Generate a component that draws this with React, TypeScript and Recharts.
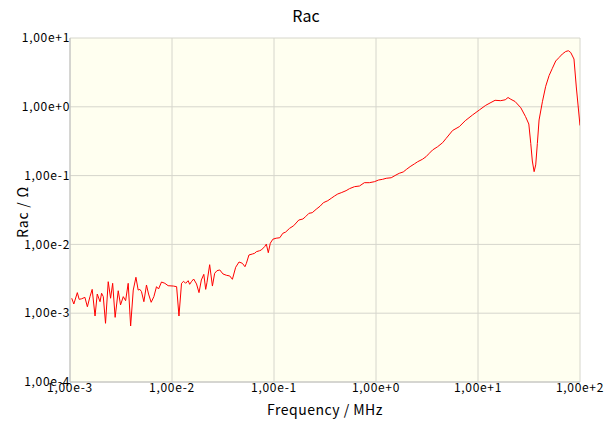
import { CartesianGrid, Line, LineChart, XAxis, YAxis } from "recharts";

// frequency (MHz)
const freqMHz = [
  1.04e-3, 1.09e-3, 1.18e-3, 1.23e-3, 1.3e-3, 1.4e-3, 1.48e-3, 1.57e-3, 1.65e-3, 1.76e-3,
  1.85e-3, 1.97e-3, 2.04e-3, 2.12e-3, 2.23e-3, 2.37e-3, 2.5e-3, 2.62e-3, 2.77e-3, 2.97e-3,
  3.13e-3, 3.33e-3, 3.51e-3, 3.72e-3, 3.93e-3, 4.17e-3, 4.43e-3, 4.66e-3, 4.84e-3, 5.02e-3,
  5.3e-3, 5.62e-3, 5.89e-3, 6.25e-3, 6.64e-3, 7.05e-3, 7.38e-3, 7.89e-3, 8.51e-3, 9.16e-3,
  1.03e-2, 1.11e-2, 1.17e-2, 1.24e-2, 1.3e-2, 1.36e-2, 1.44e-2, 1.49e-2, 1.55e-2, 1.63e-2,
  1.74e-2, 1.84e-2, 1.94e-2, 2.05e-2, 2.14e-2, 2.2e-2, 2.34e-2, 2.49e-2, 2.62e-2, 2.76e-2,
  2.94e-2, 3.16e-2, 3.41e-2, 3.68e-2, 3.91e-2, 4.21e-2, 4.54e-2, 4.9e-2, 5.19e-2, 5.36e-2,
  5.68e-2, 6.14e-2, 6.46e-2, 6.71e-2, 7.23e-2, 7.52e-2, 8.09e-2, 8.41e-2, 8.79e-2, 9.2e-2,
  9.75e-2, 0.105, 0.114, 0.122, 0.13, 0.142, 0.156, 0.175, 0.192, 0.204,
  0.22, 0.237, 0.259, 0.284, 0.305, 0.337, 0.364, 0.392, 0.422, 0.456,
  0.509, 0.55, 0.615, 0.689, 0.769, 0.861, 0.964, 1.06, 1.16, 1.26,
  1.41, 1.57, 1.69, 1.85, 2.0, 2.16, 2.38, 2.56, 2.86, 3.09,
  3.33, 3.59, 4.02, 4.5, 4.85, 5.64, 6.55, 7.5, 8.83, 10.3,
  11.9, 13.4, 14.7, 16.7, 18.5, 19.7, 21.0, 23.1, 26.3, 29.2,
  31.5, 32.9, 34.1, 35.5, 36.8, 38.2, 39.7, 42.8, 46.1, 49.8,
  53.6, 57.8, 62.4, 67.1, 72.4, 76.9, 81.1, 87.3, 92.0, 100,
];

// Rac (Ω)
const racOhm = [
  1.65e-3, 1.36e-3, 1.99e-3, 1.59e-3, 1.62e-3, 1.7e-3, 1.24e-3, 1.74e-3, 2.22e-3, 9.1e-4,
  1.9e-3, 1.47e-3, 1.95e-3, 1.74e-3, 7.13e-4, 2.87e-3, 1.65e-3, 2.72e-3, 8.7e-4, 2.12e-3,
  1.32e-3, 1.74e-3, 1.52e-3, 2.72e-3, 6.52e-4, 2.17e-3, 3.33e-3, 2.17e-3, 2.22e-3, 2.06e-3,
  1.47e-3, 2.57e-3, 1.9e-3, 1.44e-3, 1.74e-3, 2.43e-3, 2.25e-3, 2.84e-3, 2.72e-3, 2.51e-3,
  2.48e-3, 2.43e-3, 9.1e-4, 2.72e-3, 2.91e-3, 2.72e-3, 2.97e-3, 2.63e-3, 2.87e-3, 3.14e-3,
  2.66e-3, 1.99e-3, 3.04e-3, 3.67e-3, 2.22e-3, 2.77e-3, 5.07e-3, 2.48e-3, 3.8e-3, 4.15e-3,
  4.25e-3, 3.72e-3, 3.56e-3, 3.48e-3, 3.11e-3, 4.65e-3, 5.55e-3, 5.31e-3, 4.74e-3, 5.31e-3,
  7.02e-3, 7.25e-3, 7.43e-3, 7.83e-3, 8.1e-3, 8.3e-3, 9.27e-3, 1.01e-2, 7.57e-3, 1.04e-2,
  1.19e-2, 1.23e-2, 1.25e-2, 1.45e-2, 1.51e-2, 1.71e-2, 1.87e-2, 2.26e-2, 2.34e-2, 2.53e-2,
  2.83e-2, 2.89e-2, 3.24e-2, 3.61e-2, 4.04e-2, 4.32e-2, 4.68e-2, 5.05e-2, 5.41e-2, 5.64e-2,
  6.04e-2, 6.46e-2, 6.9e-2, 7.06e-2, 7.89e-2, 7.89e-2, 8.15e-2, 8.63e-2, 8.83e-2, 9.14e-2,
  9.31e-2, 0.102, 0.108, 0.113, 0.124, 0.135, 0.148, 0.159, 0.173, 0.188,
  0.211, 0.236, 0.263, 0.301, 0.345, 0.453, 0.514, 0.628, 0.76, 0.898,
  1.05, 1.155, 1.243, 1.227, 1.265, 1.365, 1.285, 1.194, 0.967, 0.723,
  0.562, 0.294, 0.163, 0.114, 0.143, 0.294, 0.643, 1.186, 1.986, 2.85,
  3.63, 4.63, 5.21, 5.85, 6.36, 6.53, 6.15, 4.95, 1.94, 0.535,
];

const xTicks = [1e-3, 1e-2, 1e-1, 1e0, 1e1, 1e2];
const yTicks = [1e-4, 1e-3, 1e-2, 1e-1, 1e0, 1e1];

const FONT = '"Noto Sans CJK JP", sans-serif';
const GRID = "#d6d6cc";

const fmtExp = (v: number) => {
  const e = Math.round(Math.log10(v));
  return `1,00e${e >= 0 ? "+" : "-"}${Math.abs(e)}`;
};

const tickStyle = { fill: "#000", fontSize: 12, fontFamily: FONT, letterSpacing: 0.7 };

export default function App() {
  const data = freqMHz.map((f, i) => ({ f, rac: racOhm[i] }));
  return (
    <div style={{ position: "absolute", left: 0, top: 0, width: 612, height: 421, background: "#fff", fontFamily: FONT }}>
      <div style={{ position: "absolute", left: 0, width: 612, top: 3, textAlign: "center", fontSize: 16, color: "#000" }}>
        Rac
      </div>
      <LineChart width={612} height={421} data={data} margin={{ top: 38, right: 32, left: 0, bottom: 0 }}>
        <CartesianGrid fill="#fffff0" stroke={GRID} />
        <XAxis
          dataKey="f"
          type="number"
          scale="log"
          domain={[1e-3, 1e2]}
          ticks={xTicks}
          allowDataOverflow
          tickFormatter={fmtExp}
          tickLine={false}
          tickSize={0}
          tickMargin={1}
          height={39}
          stroke="#c0c0c0"
          tick={tickStyle}
          interval={0}
        />
        <YAxis
          dataKey="rac"
          type="number"
          scale="log"
          domain={[1e-4, 1e1]}
          ticks={yTicks}
          allowDataOverflow
          tickFormatter={fmtExp}
          tickLine={false}
          tickSize={0}
          tickMargin={0}
          width={70}
          stroke="#c0c0c0"
          tick={tickStyle}
          interval={0}
        />
        <Line
          type="linear"
          dataKey="rac"
          stroke="#ff0000"
          strokeWidth={1}
          dot={false}
          isAnimationActive={false}
        />
      </LineChart>
      <div
        style={{
          position: "absolute",
          left: 70,
          width: 510,
          top: 399,
          textAlign: "center",
          fontSize: 14,
          letterSpacing: 0.5,
          color: "#000",
        }}
      >
        Frequency / MHz
      </div>
      <div
        style={{
          position: "absolute",
          left: 22,
          top: 212,
          transform: "translate(-50%, -50%) rotate(-90deg)",
          whiteSpace: "nowrap",
          fontSize: 14,
          letterSpacing: 0.8,
          color: "#000",
        }}
      >
        Rac / Ω
      </div>
    </div>
  );
}
